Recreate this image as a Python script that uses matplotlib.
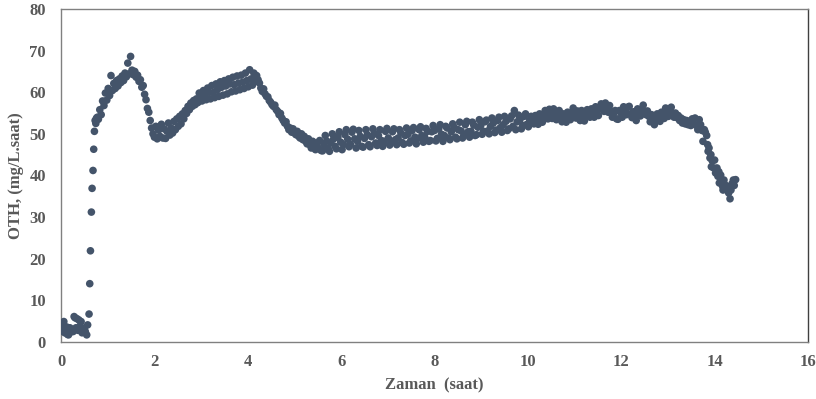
import numpy as np
import matplotlib
matplotlib.use("Agg")
import matplotlib.pyplot as plt

# oth readings, split into the parts of the run (time in hours)
t_base = [0.00, 0.02, 0.04, 0.06, 0.08, 0.10, 0.12, 0.14, 0.16, 0.19,
          0.21, 0.23, 0.26, 0.28, 0.30, 0.32, 0.34, 0.36, 0.38, 0.41,
          0.43, 0.45, 0.47, 0.50, 0.52, 0.55, 0.57]
oth_base = [2.6, 4.1, 3.0, 4.9, 2.2, 2.9, 3.6, 1.8, 1.7, 3.4,
            2.4, 3.0, 2.5, 6.1, 5.8, 3.4, 5.6, 2.8, 5.3, 3.9,
            4.9, 2.2, 2.9, 3.2, 2.5, 1.7, 4.1]

t_rise = [0.60, 0.615, 0.63, 0.65, 0.665, 0.685, 0.70, 0.715, 0.73, 0.745, 0.76, 0.78]
oth_rise = [6.7, 14.0, 21.9, 31.2, 36.9, 41.2, 46.3, 50.6, 53.2, 52.5, 53.8, 54.0]

t_peak1 = [0.80, 0.83, 0.86, 0.89, 0.92, 0.95, 0.98, 1.01, 1.04, 1.07,
           1.10, 1.13, 1.16, 1.19, 1.22, 1.25, 1.28, 1.31, 1.34, 1.37,
           1.40, 1.43, 1.46, 1.49, 1.52, 1.55, 1.58, 1.61, 1.64, 1.67,
           1.70, 1.73, 1.76, 1.79, 1.82, 1.85, 1.88, 1.91, 1.94, 1.97]
oth_peak1 = [53.5, 55.8, 54.6, 57.9, 56.8, 59.8, 58.1, 60.9, 59.2, 64.0,
             60.4, 62.1, 60.9, 62.8, 61.5, 63.2, 62.3, 63.9, 62.8, 64.6,
             63.7, 67.0, 64.4, 68.6, 65.3, 64.2, 65.0, 63.6, 64.1, 62.6,
             63.0, 61.2, 61.6, 59.5, 58.2, 56.1, 55.2, 53.2, 51.4, 50.0]

t_trough = [2.00, 2.03, 2.06, 2.09, 2.12, 2.15, 2.18, 2.21, 2.24, 2.27,
            2.30, 2.33, 2.36, 2.39, 2.42, 2.45, 2.48, 2.51, 2.54, 2.57,
            2.60, 2.63, 2.66, 2.69, 2.72, 2.75, 2.78, 2.81, 2.84, 2.87, 2.90]
oth_trough = [49.2, 51.8, 48.8, 50.9, 49.4, 52.3, 49.0, 51.2, 48.9, 50.6,
              52.6, 49.7, 51.4, 50.2, 53.0, 51.0, 53.6, 51.8, 54.2, 52.4,
              54.8, 53.6, 55.6, 54.9, 56.6, 55.8, 57.4, 56.6, 58.0, 57.0, 58.4]

t_hump = [2.93, 2.96, 2.99, 3.02, 3.05, 3.08, 3.11, 3.14, 3.17, 3.20,
          3.23, 3.26, 3.29, 3.32, 3.35, 3.38, 3.41, 3.44, 3.47, 3.50,
          3.53, 3.56, 3.59, 3.62, 3.65, 3.68, 3.71, 3.74, 3.77, 3.80,
          3.83, 3.86, 3.89, 3.92, 3.95, 3.98, 4.01, 4.04, 4.07, 4.10,
          4.13, 4.16, 4.19, 4.22, 4.25]
oth_hump = [57.5, 59.8, 58.6, 57.9, 60.4, 59.1, 58.2, 61.0, 60.0, 58.4,
            61.6, 59.9, 58.7, 62.0, 60.6, 59.0, 62.5, 61.2, 59.3, 62.8,
            61.5, 59.6, 63.2, 62.0, 60.1, 63.6, 61.8, 60.3, 63.9, 62.2,
            60.6, 64.1, 62.4, 60.9, 64.6, 62.8, 61.3, 65.4, 63.2, 61.7,
            64.6, 62.6, 64.0, 63.0, 62.2]

t_desc = [4.28, 4.31, 4.34, 4.37, 4.40, 4.43, 4.46, 4.49, 4.52, 4.55,
          4.58, 4.61, 4.64, 4.67, 4.70, 4.73, 4.76, 4.79, 4.82, 4.85,
          4.88, 4.91, 4.94, 4.97, 5.00, 5.03, 5.06, 5.09, 5.12, 5.15,
          5.18, 5.21, 5.24, 5.27, 5.30, 5.33, 5.36, 5.39, 5.42, 5.45,
          5.48, 5.51, 5.54, 5.57]
oth_desc = [61.0, 60.2, 60.8, 59.6, 59.0, 58.9, 58.0, 57.6, 57.0, 56.6,
            56.9, 55.8, 55.4, 54.6, 54.9, 53.8, 53.2, 52.6, 52.9, 51.8,
            51.0, 51.4, 50.4, 51.2, 50.2, 49.8, 50.6, 49.4, 49.0, 50.0,
            48.6, 49.4, 48.2, 47.6, 48.8, 47.4, 46.6, 48.2, 47.0, 46.2,
            47.8, 46.6, 48.4, 46.0]

t_plateau = [5.60, 5.63, 5.66, 5.69, 5.72, 5.75, 5.78, 5.81, 5.84, 5.87,
             5.90, 5.93, 5.96, 5.99, 6.02, 6.05, 6.08, 6.11, 6.14, 6.17,
             6.20, 6.23, 6.26, 6.29, 6.32, 6.35, 6.38, 6.41, 6.44, 6.47,
             6.50, 6.53, 6.56, 6.59, 6.62, 6.65, 6.68, 6.71, 6.74, 6.77,
             6.80, 6.83, 6.86, 6.89, 6.92, 6.95, 6.98, 7.01, 7.04, 7.07,
             7.10, 7.13, 7.16, 7.19, 7.22, 7.25, 7.28, 7.31, 7.34, 7.37,
             7.40, 7.43, 7.46, 7.49, 7.52, 7.55, 7.58, 7.61, 7.64, 7.67,
             7.70, 7.73, 7.76, 7.79, 7.82, 7.85, 7.88, 7.91, 7.94, 7.97,
             8.00, 8.03, 8.06, 8.09, 8.12, 8.15, 8.18, 8.21, 8.24, 8.27,
             8.30, 8.33, 8.36, 8.39, 8.42, 8.45, 8.48, 8.51, 8.54, 8.57,
             8.60, 8.63, 8.66, 8.69, 8.72, 8.75, 8.78, 8.81, 8.84, 8.87,
             8.90, 8.93, 8.96, 8.99, 9.02, 9.05, 9.08, 9.11, 9.14, 9.17,
             9.20, 9.23, 9.26, 9.29, 9.32, 9.35, 9.38, 9.41, 9.44, 9.47,
             9.50, 9.53, 9.56, 9.59, 9.62, 9.65, 9.68, 9.71, 9.74, 9.77,
             9.80, 9.83, 9.86, 9.89, 9.92, 9.95, 9.98]
oth_plateau = [45.9, 47.5, 49.6, 48.3, 46.6, 45.8, 47.9, 50.0, 48.8, 47.0,
               46.4, 49.2, 50.5, 48.0, 46.2, 47.4, 49.8, 51.0, 48.7, 46.9,
               47.5, 50.4, 51.1, 48.8, 46.6, 48.2, 50.8, 49.4, 47.0, 46.8,
               48.9, 51.0, 49.8, 47.4, 46.9, 49.3, 51.2, 50.1, 47.8, 47.2,
               49.6, 51.0, 48.4, 47.0, 48.2, 50.6, 51.3, 49.0, 47.3, 48.0,
               50.5, 51.2, 48.6, 47.4, 49.0, 51.0, 50.2, 47.9, 47.5, 49.6,
               51.4, 49.9, 47.8, 48.3, 50.8, 51.5, 49.2, 47.6, 48.9, 51.0,
               51.7, 49.6, 48.0, 49.2, 51.3, 50.6, 48.2, 48.4, 50.5, 52.0,
               50.8, 48.3, 48.9, 51.2, 52.2, 49.9, 48.2, 49.6, 51.8, 51.4,
               49.0, 48.6, 50.5, 52.4, 51.6, 49.2, 48.8, 51.0, 52.8, 50.7,
               49.0, 49.8, 52.2, 53.0, 50.5, 49.2, 50.6, 52.8, 52.1, 49.6,
               49.8, 51.6, 53.4, 52.0, 49.9, 50.6, 52.9, 53.3, 50.7, 50.0,
               51.8, 53.8, 52.6, 50.3, 50.9, 53.2, 54.0, 51.5, 50.4, 52.2,
               54.2, 53.0, 50.8, 51.2, 53.6, 54.3, 51.8, 55.6, 51.0, 52.9,
               54.5, 53.4, 51.2, 52.0, 54.2, 54.8, 52.3]

t_wave = [10.01, 10.04, 10.07, 10.10, 10.13, 10.16, 10.19, 10.22, 10.25, 10.28,
          10.31, 10.34, 10.37, 10.40, 10.43, 10.46, 10.49, 10.52, 10.55, 10.58,
          10.61, 10.64, 10.67, 10.70, 10.73, 10.76, 10.79, 10.82, 10.85, 10.88,
          10.91, 10.94, 10.97, 11.00, 11.03, 11.06, 11.09, 11.12, 11.15, 11.18,
          11.21, 11.24, 11.27, 11.30, 11.33, 11.36, 11.39, 11.42, 11.45, 11.48,
          11.51, 11.54, 11.57, 11.60, 11.63, 11.66, 11.69, 11.72, 11.75, 11.78,
          11.81, 11.84, 11.87, 11.90, 11.93, 11.96, 11.99, 12.02, 12.05, 12.08,
          12.11, 12.14, 12.17, 12.20, 12.23, 12.26, 12.29, 12.32, 12.35, 12.38,
          12.41, 12.44, 12.47, 12.50, 12.53, 12.56, 12.59, 12.62, 12.65, 12.68,
          12.71, 12.74, 12.77, 12.80, 12.83, 12.86, 12.89, 12.92, 12.95, 12.98,
          13.01, 13.04, 13.07, 13.10, 13.13]
oth_wave = [51.7, 53.3, 54.2, 52.9, 52.4, 54.4, 53.6, 52.3, 54.8, 53.7,
            52.8, 54.5, 55.6, 54.2, 53.6, 55.9, 55.1, 53.7, 56.0, 54.6,
            53.4, 54.9, 55.6, 53.7, 52.9, 54.8, 54.2, 52.8, 55.2, 54.2,
            53.4, 55.0, 56.2, 54.6, 53.8, 55.5, 54.6, 53.2, 55.6, 54.1,
            53.1, 54.8, 55.8, 54.3, 54.0, 56.0, 55.2, 54.0, 56.5, 55.3,
            54.4, 56.2, 57.2, 56.0, 55.4, 57.4, 56.6, 55.2, 56.8, 55.4,
            54.0, 55.0, 55.6, 53.6, 53.5, 55.6, 55.0, 54.0, 56.5, 55.6,
            54.6, 56.4, 56.6, 54.8, 53.9, 55.3, 54.2, 53.2, 56.0, 55.0,
            54.3, 56.0, 56.9, 55.2, 54.6, 55.5, 54.2, 52.9, 54.6, 53.4,
            52.2, 53.8, 54.8, 53.4, 53.0, 55.2, 54.6, 53.7, 56.2, 55.0,
            54.2, 55.8, 56.4, 54.7, 54.0]

t_shoulder = [13.16, 13.19, 13.22, 13.25, 13.28, 13.31, 13.34, 13.37, 13.40, 13.43,
              13.46, 13.49, 13.52, 13.55, 13.58, 13.61, 13.64, 13.67, 13.70, 13.73]
oth_shoulder = [55.0, 53.9, 54.4, 53.2, 53.8, 52.6, 53.4, 52.4, 53.2, 52.2,
                53.0, 52.0, 53.6, 52.3, 53.8, 52.0, 51.0, 53.4, 52.2, 50.8]

t_drop = [13.75, 13.78, 13.80, 13.83, 13.85, 13.86, 13.88, 13.90, 13.92, 13.93,
          13.95, 13.98, 14.00, 14.02, 14.05, 14.07, 14.09, 14.10, 14.13, 14.15,
          14.17, 14.18, 14.20, 14.22, 14.25, 14.28, 14.30, 14.33, 14.35, 14.37,
          14.40, 14.42, 14.45]
oth_drop = [48.2, 51.0, 50.4, 49.6, 47.4, 45.8, 46.6, 44.2, 45.0, 42.1,
            43.5, 41.8, 43.7, 40.6, 41.8, 39.8, 40.9, 38.2, 40.1, 39.0,
            37.4, 36.5, 38.9, 37.8, 36.8, 37.3, 35.8, 34.4, 36.5, 38.0,
            38.9, 37.6, 39.0]

x_ticks = [0, 2, 4, 6, 8, 10, 12, 14, 16]
y_ticks = [0, 10, 20, 30, 40, 50, 60, 70, 80]

time = np.concatenate([t_base, t_rise, t_peak1, t_trough, t_hump,
                       t_desc, t_plateau, t_wave, t_shoulder, t_drop])
oth = np.concatenate([oth_base, oth_rise, oth_peak1, oth_trough, oth_hump,
                      oth_desc, oth_plateau, oth_wave, oth_shoulder, oth_drop])

plt.rcParams['font.family'] = ['Liberation Serif', 'DejaVu Serif']

fig = plt.figure(figsize=(8.16, 3.99), dpi=100)
ax = fig.add_axes([0.0748, 0.143, 0.9154, 0.8345])

ax.scatter(time, oth, s=30, color='#44546A', edgecolors='none', zorder=3)

ax.set_xlim(0, 16)
ax.set_ylim(0, 80)
ax.set_xticks(x_ticks)
ax.set_yticks(y_ticks)

text_color = '#595959'
ax.tick_params(length=0, labelsize=12, labelcolor=text_color)
ax.tick_params(axis='y', pad=11)
ax.tick_params(axis='x', pad=9)
for lab in ax.get_xticklabels() + ax.get_yticklabels():
    lab.set_fontweight('bold')

for side in ['left', 'bottom', 'top']:
    ax.spines[side].set_color('#808080')
    ax.spines[side].set_linewidth(1.0)
ax.spines['right'].set_color('#404040')
ax.spines['right'].set_linewidth(1.0)

ax.set_xlabel("Zaman  (saat)", fontsize=12, fontweight='bold', color=text_color, labelpad=5)
ax.set_ylabel("OTH, (mg/L.saat)", fontsize=12, fontweight='bold', color=text_color, labelpad=4)

plt.savefig("out.png", dpi=100)
